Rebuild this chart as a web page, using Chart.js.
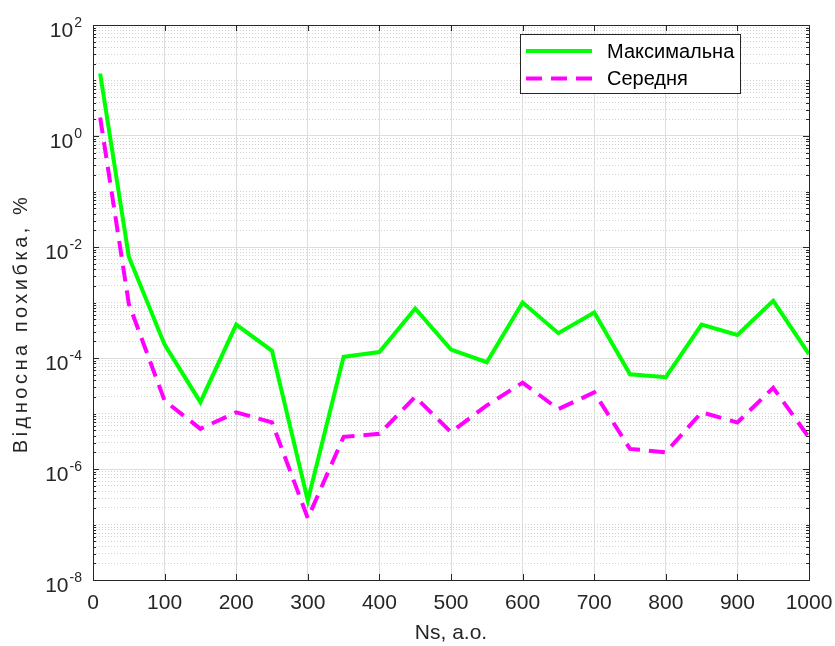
<!DOCTYPE html>
<html>
<head>
<meta charset="utf-8">
<script src="https://cdn.jsdelivr.net/npm/chart.js"></script>
<style>
  body { margin: 0; background: #fff; }
  #errChart { display: block; }
</style>
</head>
<body>
<canvas id="errChart" width="835" height="646"></canvas>
<script>
var nsValues = [10, 50, 100, 150, 200, 250, 300, 350, 400, 450, 500, 550, 600, 650, 700, 750, 800, 850, 900, 950, 1000]
var maxErr = [13.4, 6.7e-3, 1.74e-4, 1.6e-5, 4.0e-4, 1.35e-4, 2.7e-7, 1.05e-4, 1.28e-4, 7.8e-4, 1.42e-4, 8.4e-5, 1.0e-3, 2.8e-4, 6.6e-4, 5.1e-5, 4.5e-5, 4.0e-4, 2.6e-4, 1.07e-3, 1.18e-4]
var meanErr = [2.16, 9.5e-4, 1.7e-5, 5.3e-6, 1.05e-5, 6.9e-6, 1.3e-7, 3.8e-6, 4.3e-6, 2.0e-5, 4.6e-6, 1.4e-5, 3.6e-5, 1.2e-5, 2.4e-5, 2.3e-6, 2.0e-6, 1.05e-5, 6.9e-6, 2.9e-5, 3.7e-6]
var xTicks = [0, 100, 200, 300, 400, 500, 600, 700, 800, 900, 1000]
var yExpLabels = [2, 0, -2, -4, -6, -8]
var seriesNames = ["Максимальна", "Середня"]

var axisColor = "#262626"
var fontName = "'Liberation Sans', Arial, sans-serif"

function toPoints(xs, ys) {
    return xs.map((x, i) => ({ x: x, y: ys[i] }))
}

// all 1..9 x 10^k ticks, for the log grid
function logTicks(scale) {
    var ticks = []
    for (let e = -8; e < 2; e++) {
        for (let m = 1; m < 10; m++) ticks.push({ value: m * Math.pow(10, e) })
    }
    ticks.push({ value: 100 })
    scale.ticks = ticks
}

function isMajor(v) {
    var e = Math.log10(v)
    return Math.abs(e - Math.round(e)) < 1e-9 && Math.round(e) % 2 == 0
}

// MATLAB-like box, inward ticks, y labels with exponents, y title, legend
var decorPlugin = {
    id: "decor",
    afterDatasetsDraw(chart) {
        var ctx = chart.ctx
        var a = chart.chartArea
        var xs = chart.scales.x
        var ys = chart.scales.y
        ctx.save()
        ctx.strokeStyle = axisColor
        ctx.lineWidth = 1
        ctx.beginPath()
        ys.ticks.forEach((t) => {
            var py = Math.round(ys.getPixelForValue(t.value)) + 0.5
            var len = isMajor(t.value) ? 6 : 3
            ctx.moveTo(a.left, py); ctx.lineTo(a.left + len, py)
            ctx.moveTo(a.right, py); ctx.lineTo(a.right - len, py)
        })
        xTicks.forEach((v) => {
            var px = Math.round(xs.getPixelForValue(v)) + 0.5
            ctx.moveTo(px, a.bottom); ctx.lineTo(px, a.bottom - 6)
            ctx.moveTo(px, a.top); ctx.lineTo(px, a.top + 6)
        })
        ctx.stroke()
        ctx.strokeRect(Math.round(a.left) + 0.5, Math.round(a.top) + 0.5, Math.round(a.right - a.left), Math.round(a.bottom - a.top))

        // y tick labels: 10 with superscript exponent
        ctx.fillStyle = axisColor
        ctx.textAlign = "right"
        ctx.textBaseline = "alphabetic"
        var rightEdge = a.left - 11
        yExpLabels.forEach((e) => {
            var py = ys.getPixelForValue(Math.pow(10, e))
            var expText = String(e)
            ctx.font = "14px " + fontName
            var w = ctx.measureText(expText).width
            ctx.fillText(expText, rightEdge, py + 2)
            ctx.font = "21px " + fontName
            ctx.fillText("10", rightEdge - w - 1, py + 12)
        })

        // y title
        ctx.save()
        ctx.translate(21, (a.top + a.bottom) / 2 + 21)
        ctx.rotate(-Math.PI / 2)
        ctx.font = "20px " + fontName
        ctx.textAlign = "center"
        ctx.textBaseline = "middle"
        if ("letterSpacing" in ctx) ctx.letterSpacing = "3.5px"
        ctx.fillText("Відносна похибка, %", 0, 0)
        ctx.restore()

        // legend
        var lx = 520, ly = 34, lw = 220, lh = 59
        ctx.fillStyle = "#ffffff"
        ctx.fillRect(lx, ly, lw, lh)
        ctx.strokeStyle = axisColor
        ctx.strokeRect(lx + 0.5, ly + 0.5, lw, lh)
        chart.data.datasets.forEach((ds, i) => {
            var y = ly + 17 + i * 27.5
            ctx.beginPath()
            ctx.strokeStyle = ds.borderColor
            ctx.lineWidth = ds.borderWidth
            ctx.setLineDash(ds.borderDash || [])
            ctx.moveTo(lx + 6, y)
            ctx.lineTo(lx + 72, y)
            ctx.stroke()
            ctx.setLineDash([])
            ctx.fillStyle = "#000000"
            ctx.font = "20px " + fontName
            ctx.textAlign = "left"
            ctx.textBaseline = "middle"
            ctx.fillText(ds.label, lx + 87, y + 1)
        })
        ctx.restore()
    }
}

new Chart(document.getElementById("errChart").getContext("2d"), {
    type: "line",
    data: {
        datasets: [
            {
                label: seriesNames[0],
                data: toPoints(nsValues, maxErr),
                borderColor: "#00ff00",
                backgroundColor: "#00ff00",
                borderWidth: 4,
                pointRadius: 0,
                tension: 0,
                fill: false,
            },
            {
                label: seriesNames[1],
                data: toPoints(nsValues, meanErr),
                borderColor: "#ff00ff",
                backgroundColor: "#ff00ff",
                borderWidth: 4,
                borderDash: [16, 9],
                pointRadius: 0,
                tension: 0,
                fill: false,
            },
        ],
    },
    options: {
        responsive: false,
        animation: false,
        devicePixelRatio: 1,
        layout: { padding: { left: 0, right: 26, top: 25, bottom: 0 } },
        plugins: {
            legend: { display: false },
            tooltip: { enabled: false },
        },
        scales: {
            x: {
                type: "linear",
                min: 0,
                max: 1000,
                afterBuildTicks: (scale) => { scale.ticks = xTicks.map((v) => ({ value: v })) },
                afterFit: (scale) => {
                    scale.height = 66
                    scale.paddingLeft = 0
                    scale.paddingRight = 0
                },
                ticks: {
                    color: axisColor,
                    font: { family: fontName, size: 21 },
                    padding: 11,
                    maxRotation: 0,
                    autoSkip: false,
                    callback: (v) => String(v),
                },
                grid: { color: "#dedede", lineWidth: 1, drawTicks: false },
                border: { display: false },
                title: {
                    display: true,
                    text: "Ns, a.o.",
                    color: axisColor,
                    font: { family: fontName, size: 21 },
                    padding: { top: 0, bottom: 0 },
                },
            },
            y: {
                type: "logarithmic",
                min: 1e-8,
                max: 100,
                afterBuildTicks: logTicks,
                afterFit: (scale) => { scale.width = 93 },
                ticks: { display: false, autoSkip: false },
                grid: {
                    drawTicks: false,
                    lineWidth: 1,
                    color: (c) => (c.tick && isMajor(c.tick.value) ? "#dedede" : "#d2d2d2"),
                },
                border: {
                    display: false,
                    dash: (c) => (c.tick && !isMajor(c.tick.value) ? [1, 2] : []),
                },
            },
        },
    },
    plugins: [decorPlugin],
})
</script>
</body>
</html>
